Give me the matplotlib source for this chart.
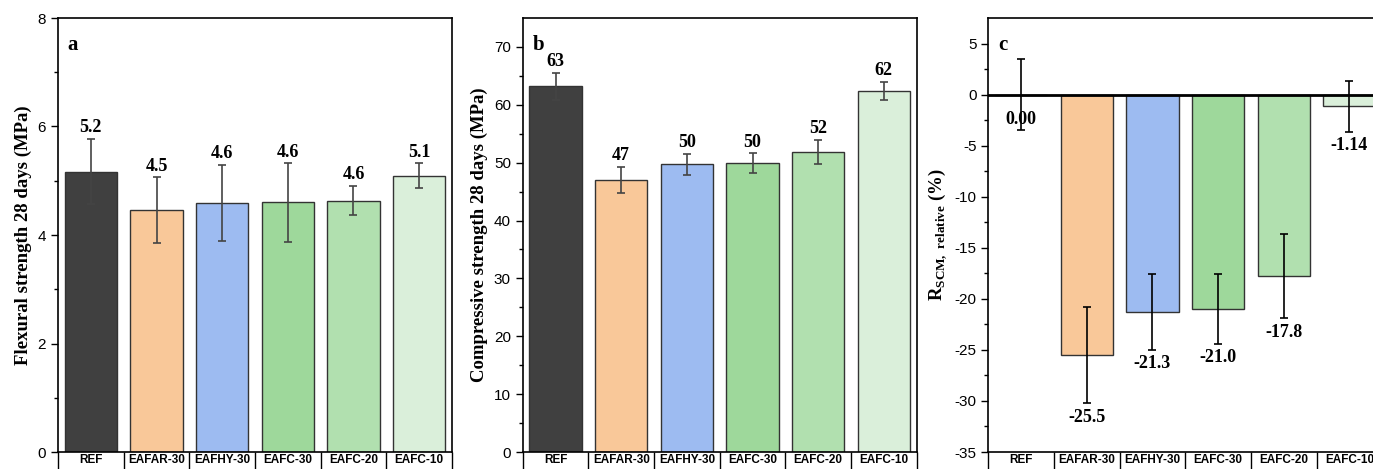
import numpy as np
import matplotlib.pyplot as plt

plt.rcParams['mathtext.fontset'] = 'custom'
plt.rcParams['mathtext.rm'] = 'Liberation Serif'
plt.rcParams['mathtext.bf'] = 'Liberation Serif:bold'
plt.rcParams['axes.unicode_minus'] = False

mixes = ['REF', 'EAFAR-30', 'EAFHY-30', 'EAFC-30', 'EAFC-20', 'EAFC-10']
colors = ['#404040', '#F9C899', '#9DBBF1', '#9ED89B', '#B1E0AF', '#DAEFDA']

flex = [5.17, 4.46, 4.59, 4.60, 4.63, 5.09]
flex_err = [0.60, 0.60, 0.70, 0.72, 0.27, 0.23]

comp = [63.2, 47.0, 49.7, 49.9, 51.9, 62.4]
comp_err = [2.3, 2.3, 1.8, 1.7, 2.1, 1.6]

rel = [0.00, -25.5, -21.3, -21.0, -17.8, -1.14]
rel_err = [3.5, 4.7, 3.7, 3.4, 4.1, 2.5]

W, H = 1373, 469
fig = plt.figure(figsize=(W / 100, H / 100), dpi=100)

serif = 'Liberation Serif'
sans = 'Liberation Sans'


def panel(left, ylim, major, minor, ylabel, letter):
    ax = fig.add_axes([left / W, (H - 452) / H, 394 / W, 434 / H])
    ax.set_xlim(-0.5, 5.5)
    ax.set_ylim(*ylim)
    ax.set_yticks(major)
    ax.set_yticks(minor, minor=True)
    ax.set_xticks(range(len(mixes)))
    ax.set_xticklabels(mixes, fontfamily=sans, fontweight='bold', fontsize=8.5)
    ax.set_xticks(np.arange(-0.5, 6, 1), minor=True)
    ax.tick_params(axis='x', which='major', length=0, pad=1.5)
    ax.tick_params(axis='x', which='minor', length=12, width=1, direction='out')
    ax.tick_params(axis='y', which='major', length=5, width=1, labelsize=11)
    ax.tick_params(axis='y', which='minor', length=3, width=1)
    for lab in ax.get_yticklabels():
        lab.set_fontfamily(sans)
    for s in ax.spines.values():
        s.set_linewidth(1.2)
    ax.set_ylabel(ylabel, fontfamily=serif, fontweight='bold', fontsize=13.5, labelpad=4)
    ax.text(0.025, 0.96, letter, transform=ax.transAxes, fontfamily=serif,
            fontweight='bold', fontsize=15, va='top', ha='left')
    return ax


# a: flexural strength
ax = panel(58, (0, 8), range(0, 9, 2), np.arange(1, 8, 2),
           'Flexural strength 28 days (MPa)', 'a')
ax.bar(range(6), flex, width=0.8, color=colors, edgecolor='#333333', linewidth=1)
ax.errorbar(range(6), flex, yerr=flex_err, fmt='none', ecolor='#444444',
            elinewidth=1.2, capsize=3, capthick=1.2)
for i, (v, e) in enumerate(zip(flex, flex_err)):
    ax.annotate(f'{v:.1f}', (i, v + e), xytext=(0, 2), textcoords='offset points',
                ha='center', va='bottom', fontfamily=serif, fontweight='bold', fontsize=13)

# b: compressive strength
ax = panel(522.7, (0, 75), range(0, 71, 10), np.arange(5, 75, 10),
           'Compressive strength 28 days (MPa)', 'b')
ax.bar(range(6), comp, width=0.8, color=colors, edgecolor='#333333', linewidth=1)
ax.errorbar(range(6), comp, yerr=comp_err, fmt='none', ecolor='#444444',
            elinewidth=1.2, capsize=3, capthick=1.2)
for i, (v, e) in enumerate(zip(comp, comp_err)):
    ax.annotate(f'{v:.0f}', (i, v + e), xytext=(0, 2), textcoords='offset points',
                ha='center', va='bottom', fontfamily=serif, fontweight='bold', fontsize=13)

# c: relative change vs REF
ax = panel(988.3, (-35, 7.5), range(-35, 6, 5), np.arange(-32.5, 7.5, 5),
           r'$\mathbf{R}_{\mathbf{SCM,\ relative}}$ (%)', 'c')
ax.bar(range(6), rel, width=0.8, color=colors, edgecolor='#333333', linewidth=1)
ax.axhline(0, color='black', linewidth=2)
ax.errorbar(range(6), rel, yerr=rel_err, fmt='none', ecolor='black',
            elinewidth=1.2, capsize=3, capthick=1.2)
for i, (v, e) in enumerate(zip(rel, rel_err)):
    txt = f'{v:.2f}' if abs(v) < 10 else f'{v:.1f}'
    y0 = v - e if v != 0 else 0
    off = -4 if v != 0 else -12
    ax.annotate(txt, (i, y0), xytext=(0, off), textcoords='offset points',
                ha='center', va='top', fontfamily=serif, fontweight='bold', fontsize=13)

fig.savefig('out.png', dpi=100)
